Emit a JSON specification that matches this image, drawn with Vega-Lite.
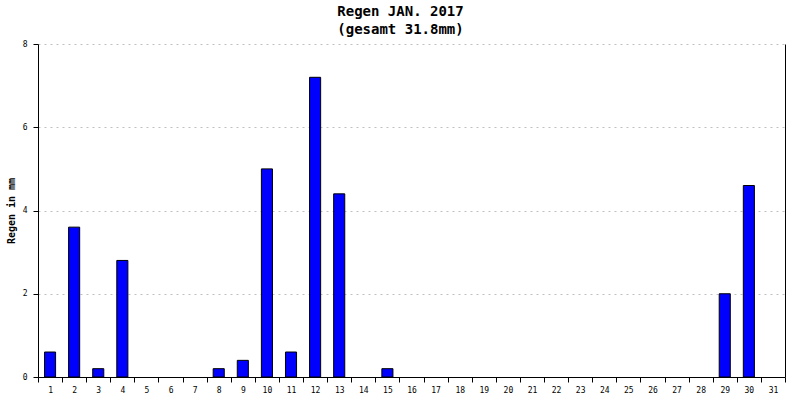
{
  "$schema": "https://vega.github.io/schema/vega-lite/v6.json",
  "autosize": "none",
  "width": 747,
  "height": 333,
  "padding": {"left": 38, "top": 44, "right": 15, "bottom": 23},
  "background": "white",
  "title": {
    "text": ["Regen JAN. 2017", "(gesamt 31.8mm)"],
    "font": "DejaVu Sans Mono",
    "fontSize": 14,
    "fontWeight": "bold",
    "color": "black",
    "anchor": "middle",
    "lineHeight": 18,
    "offset": 3,
    "dx": -11
  },
  "config": {
    "view": {"stroke": null},
    "axis": {
      "labelFont": "DejaVu Sans Mono",
      "labelFontSize": 8,
      "labelColor": "black",
      "domainColor": "black",
      "tickColor": "black",
      "titleFont": "DejaVu Sans Mono",
      "titleColor": "black"
    }
  },
  "data": {
    "values": [
      {"day": 1, "rain": 0.6}, {"day": 2, "rain": 3.6}, {"day": 3, "rain": 0.2},
      {"day": 4, "rain": 2.8}, {"day": 5, "rain": 0}, {"day": 6, "rain": 0},
      {"day": 7, "rain": 0}, {"day": 8, "rain": 0.2}, {"day": 9, "rain": 0.4},
      {"day": 10, "rain": 5.0}, {"day": 11, "rain": 0.6}, {"day": 12, "rain": 7.2},
      {"day": 13, "rain": 4.4}, {"day": 14, "rain": 0}, {"day": 15, "rain": 0.2},
      {"day": 16, "rain": 0}, {"day": 17, "rain": 0}, {"day": 18, "rain": 0},
      {"day": 19, "rain": 0}, {"day": 20, "rain": 0}, {"day": 21, "rain": 0},
      {"day": 22, "rain": 0}, {"day": 23, "rain": 0}, {"day": 24, "rain": 0},
      {"day": 25, "rain": 0}, {"day": 26, "rain": 0}, {"day": 27, "rain": 0},
      {"day": 28, "rain": 0}, {"day": 29, "rain": 2.0}, {"day": 30, "rain": 4.6},
      {"day": 31, "rain": 0}
    ]
  },
  "encoding": {
    "x": {
      "field": "day",
      "type": "ordinal",
      "scale": {
        "domain": [1, 2, 3, 4, 5, 6, 7, 8, 9, 10, 11, 12, 13, 14, 15, 16, 17, 18, 19, 20, 21, 22, 23, 24, 25, 26, 27, 28, 29, 30, 31],
        "paddingInner": 0,
        "paddingOuter": 0
      },
      "axis": {
        "title": null,
        "labelAngle": 0,
        "tickBand": "extent",
        "tickSize": 5,
        "labelPadding": 4,
        "grid": false
      }
    }
  },
  "layer": [
    {
      "transform": [{"filter": "datum.rain > 0"}],
      "mark": {
        "type": "bar",
        "fill": "#0000ff",
        "stroke": "black",
        "strokeWidth": 1,
        "width": {"band": 0.46}
      },
      "encoding": {
        "y": {
          "field": "rain",
          "type": "quantitative",
          "scale": {"domain": [0, 8], "nice": false},
          "axis": {
            "title": "Regen in mm",
            "titleFontSize": 10,
            "titleFontWeight": "bold",
            "titlePadding": 6,
            "values": [0, 2, 4, 6, 8],
            "tickSize": 5,
            "labelPadding": 6,
            "grid": true,
            "gridColor": "#c0c0c0",
            "gridDash": [2, 4]
          }
        }
      }
    },
    {
      "mark": {"type": "bar", "fillOpacity": 0, "strokeOpacity": 0},
      "encoding": {
        "y": {
          "field": "rain",
          "type": "quantitative",
          "axis": {
            "orient": "right",
            "title": null,
            "labels": false,
            "ticks": false,
            "grid": false
          }
        }
      }
    }
  ],
  "resolve": {"axis": {"y": "independent"}}
}
